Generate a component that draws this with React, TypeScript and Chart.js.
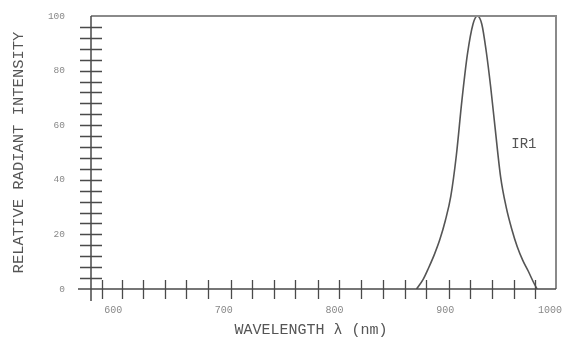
import React, { useEffect, useRef } from "react";
import { Chart, registerables } from "chart.js";

Chart.register(...registerables);

// ---- data ----
const wavelengths = [874, 880, 885, 890, 895, 900, 905, 910, 915, 920, 925, 929, 933, 937, 941, 945, 950, 955, 960, 965, 970, 975, 980, 983];
const intensity = [0, 3.5, 7.8, 12.5, 18, 25, 34, 49, 69, 86, 97, 100, 97, 87, 74, 59, 41, 30, 22, 15.5, 10.5, 6.5, 2.2, 0];

const xTickLabels = [600, 700, 800, 900, 1000];
const xMinorTicks = [590, 608, 627, 647, 666, 686, 706, 725, 745, 764, 785, 804, 824, 844, 864, 883, 903, 922, 942, 962, 981];
const yTickLabels = [0, 20, 40, 60, 80, 100];
const yMinorTicks = [4, 8, 12, 16, 20, 24, 28, 32, 36, 40, 44, 48, 52, 56, 60, 64, 68, 72, 76, 80, 84, 88, 92, 96];

const seriesName = "IR1";
const seriesLabelAt = [971, 53];
const xTitle = "WAVELENGTH \u03bb (nm)";
const yTitle = "RELATIVE RADIANT INTENSITY";

const MONO = "'Liberation Mono', 'DejaVu Sans Mono', monospace";

const decorPlugin = {
  id: "decor",
  afterDraw(chart: any) {
    const { ctx, chartArea, scales } = chart;
    const { left, right, top, bottom } = chartArea;
    const xs = scales.x;
    const ys = scales.y;
    ctx.save();
    // frame (top + right)
    ctx.strokeStyle = "#8a8a8a";
    ctx.lineWidth = 2;
    ctx.beginPath();
    ctx.moveTo(left, top);
    ctx.lineTo(right, top);
    ctx.lineTo(right, bottom);
    ctx.stroke();
    // axes
    ctx.strokeStyle = "#4a4a4a";
    ctx.lineWidth = 1.5;
    ctx.beginPath();
    ctx.moveTo(left - 13, bottom);
    ctx.lineTo(right, bottom);
    ctx.moveTo(left, top);
    ctx.lineTo(left, bottom + 12);
    ctx.stroke();
    // crossing ticks
    ctx.lineWidth = 1.3;
    ctx.beginPath();
    for (const v of xMinorTicks) {
      const px = Math.round(xs.getPixelForValue(v)) + 0.5;
      ctx.moveTo(px, bottom - 9);
      ctx.lineTo(px, bottom + 10);
    }
    for (const v of yMinorTicks) {
      const py = Math.round(ys.getPixelForValue(v)) + 0.5;
      ctx.moveTo(left - 11, py);
      ctx.lineTo(left + 11, py);
    }
    ctx.stroke();
    // series label
    ctx.fillStyle = "#555";
    ctx.font = `14px ${MONO}`;
    ctx.textAlign = "center";
    ctx.textBaseline = "middle";
    ctx.fillText(seriesName, xs.getPixelForValue(seriesLabelAt[0]), ys.getPixelForValue(seriesLabelAt[1]));
    // x title
    ctx.font = `15px ${MONO}`;
    ctx.fillText(xTitle, left + 220, bottom + 41);
    ctx.restore();
  },
};

export default function App() {
  const ref = useRef<HTMLCanvasElement>(null);

  useEffect(() => {
    document.body.style.margin = "0";
    const canvas = ref.current;
    if (!canvas) return;
    const chart = new Chart(canvas, {
      type: "line",
      data: {
        datasets: [
          {
            label: seriesName,
            data: wavelengths.map((w, i) => ({ x: w, y: intensity[i] })),
            borderColor: "#555",
            borderWidth: 1.6,
            pointRadius: 0,
            cubicInterpolationMode: "monotone",
            fill: false,
          },
        ],
      },
      options: {
        animation: false,
        responsive: false,
        maintainAspectRatio: false,
        layout: { padding: { left: 0, right: 8, top: 16, bottom: 0 } },
        plugins: { legend: { display: false }, tooltip: { enabled: false } },
        scales: {
          x: {
            type: "linear",
            min: 580,
            max: 1000,
            grid: { display: false, drawTicks: false },
            border: { display: false },
            afterBuildTicks: (scale: any) => {
              scale.ticks = xTickLabels.map((v) => ({ value: v }));
            },
            afterFit: (scale: any) => {
              scale.height = 51;
              scale.paddingLeft = 0;
              scale.paddingRight = 0;
            },
            ticks: {
              padding: 15,
              maxRotation: 0,
              autoSkip: false,
              color: "#888",
              font: { family: MONO, size: 10 },
              callback: (v: any) => (v === 1000 ? String(v) + "  " : String(v)),
            },
          },
          y: {
            type: "linear",
            min: 0,
            max: 100,
            grid: { display: false, drawTicks: false },
            border: { display: false },
            afterBuildTicks: (scale: any) => {
              scale.ticks = yTickLabels.map((v) => ({ value: v }));
            },
            afterFit: (scale: any) => {
              scale.width = 91;
              scale.paddingTop = 0;
              scale.paddingBottom = 0;
            },
            ticks: {
              padding: 26,
              color: "#888",
              font: { family: MONO, size: 9.5 },
              callback: (v: any) => String(v),
            },
            title: {
              display: true,
              text: yTitle,
              color: "#555",
              font: { family: MONO, size: 15.5 },
              padding: { top: 10, bottom: 0 },
            },
          },
        },
      },
      plugins: [decorPlugin],
    } as any);
    return () => chart.destroy();
  }, []);

  return (
    <div style={{ width: 564, height: 340, position: "relative" }}>
      <canvas ref={ref} width={564} height={340} />
    </div>
  );
}
